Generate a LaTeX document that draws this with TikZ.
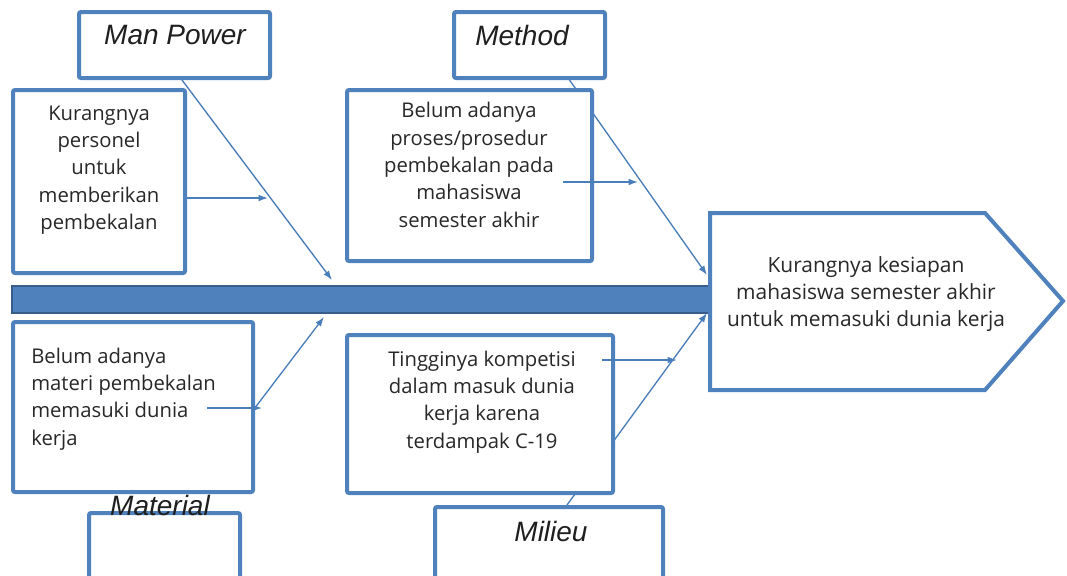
\documentclass[tikz,border=0pt]{standalone}
\usepackage{fontspec}
\setmainfont{Open Sans}
\newfontfamily\headfont{Liberation Sans}
\usetikzlibrary{arrows.meta,calc,fit}
\definecolor{boxblue}{RGB}{79,129,189}
\definecolor{spinedark}{RGB}{56,93,138}
\definecolor{linkblue}{RGB}{74,126,187}
\definecolor{inktext}{RGB}{40,40,40}

\begin{document}
\begin{tikzpicture}[x=0.75pt,y=-0.75pt,
  box/.style={draw=boxblue,line width=3pt,fill=white,rounded corners=1.5pt,inner sep=0pt},
  body/.style={font=\fontsize{15.2}{20.5}\selectfont,text=inktext,align=center,inner sep=0pt},
  head/.style={font=\headfont\itshape\fontsize{21}{24}\selectfont,text=black!88,inner sep=0pt},
  bone/.style={draw=linkblue,line width=1pt},
  arr/.style={bone,-{Latex[length=7pt,width=5pt]}}]

\clip (0,0) rectangle (1067,575);
\fill[white] (0,0) rectangle (1067,575);

% spine and the effect head
\node[fill=boxblue,draw=spinedark,line width=1.5pt,inner sep=0pt,fit={(12,286) (710,313)}] (spine) {};
\draw[boxblue,line width=3pt,fill=white,line join=miter]
  (710,213) -- (985,213) -- (1063,301) -- (985,390) -- (710,390) -- cycle;
\node[body,font=\fontsize{15.7}{20.5}\selectfont] (eff) at (866,294) {Kurangnya kesiapan\\mahasiswa semester akhir\\untuk memasuki dunia kerja};

% category boxes
\node[box,fit={(79,12) (270,78)}] (mp) {};
\node[box,fit={(454,12) (605,78)}] (mt) {};
\node[box,fit={(89,513) (240,580)}] (ma) {};
\node[box,fit={(435,507) (663,580)}] (mi) {};

% ends of the main bones on the spine
\coordinate (tipMP) at (332,280);
\coordinate (tipMT) at (707,275);
\coordinate (tipMA) at (324,317);
\coordinate (tipMI) at (707,313);
\coordinate (footMA) at (191,492);

% main bones
\draw[arr] ($(mp.south)+(7.5,0)$) -- (tipMP);
\draw[arr] ($(mt.south)+(40,0)$) -- (tipMT);
\draw[arr] (footMA) -- (tipMA);
\draw[arr] ($(mi.north)+(18,0)$) -- (tipMI);

% cause boxes
\node[box,fit={(13,90) (185,273)}] (k1) {};
\node[box,fit={(347,90) (592,261)}] (k2) {};
\node[box,fit={(13,322) (253,492)}] (k3) {};
\node[box,fit={(347,335) (613,493)}] (k4) {};

% cause texts
\node[body] (t1) at (99,170) {Kurangnya\\personel\\untuk\\memberikan\\pembekalan};
\node[body] (t2) at (469,165) {Belum adanya\\proses/prosedur\\pembekalan pada\\mahasiswa\\semester akhir};
\node[body,align=left,anchor=west] (t3) at (31,399) {Belum adanya\\materi pembekalan\\memasuki dunia\\kerja};
\node[body] (t4) at (482,402) {Tingginya kompetisi\\dalam masuk dunia\\kerja karena\\terdampak C-19};

% sub-bones
\coordinate (subMP) at (268,198);
\coordinate (subMT) at (638,182);
\coordinate (subMA) at (262,408);
\coordinate (subMI) at (677,360);
\draw[arr] (k1.east |- subMP) -- (subMP);
\draw[arr] (563,182) -- (subMT);
\draw[arr] (207,408) -- (subMA);
\draw[arr] (602,360) -- (subMI);

% category titles
\node[head] (lmp) at (175,35) {Man Power};
\node[head] (lmt) at (522,35) {Method};
\node[head] (lma) at (160,505) {Material};
\node[head] (lmi) at (551,531) {Milieu};
\end{tikzpicture}
\end{document}
